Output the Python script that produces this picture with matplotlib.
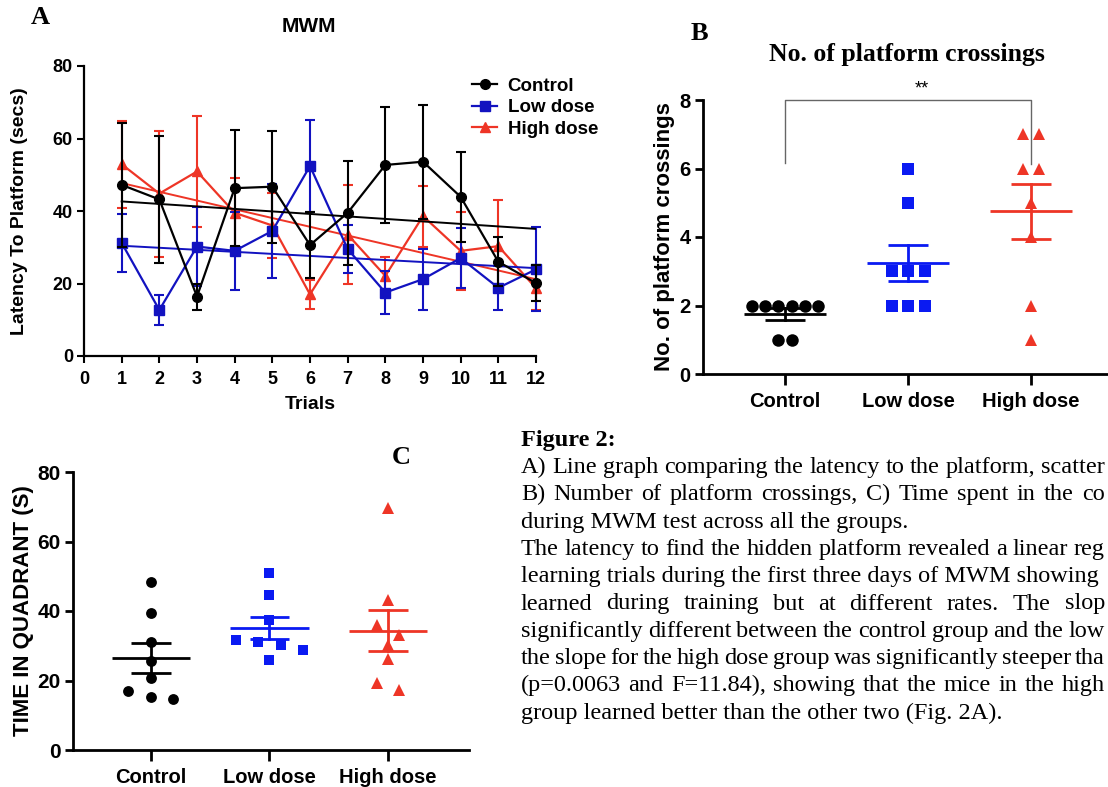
import numpy as np
import matplotlib
matplotlib.use('Agg')
import matplotlib.pyplot as plt
from matplotlib.lines import Line2D

# ------------------------- data -------------------------
trials = [1, 2, 3, 4, 5, 6, 7, 8, 9, 10, 11, 12]
ctrl_lat = [47.2, 43.2, 16.4, 46.3, 46.7, 30.6, 39.5, 52.7, 53.6, 43.9, 26.0, 20.1]
ctrl_sem = [17.0, 17.5, 3.6, 16.0, 15.5, 9.0, 14.4, 16.0, 15.7, 12.4, 6.8, 5.0]
low_lat = [31.2, 12.7, 30.2, 29.0, 34.5, 52.4, 29.5, 17.5, 21.2, 27.0, 18.8, 23.9]
low_sem = [8.0, 4.2, 11.0, 10.7, 13.0, 12.6, 6.7, 5.9, 8.4, 8.3, 6.0, 11.6]
high_lat = [52.9, 44.8, 50.9, 39.5, 36.0, 17.0, 33.5, 22.1, 38.6, 29.0, 30.3, 18.7]
high_sem = [12.0, 17.4, 15.2, 9.5, 9.0, 4.0, 13.7, 5.3, 8.4, 10.8, 12.6, 6.0]

groups = ['Control', 'Low dose', 'High dose']
cross_ctrl = [2, 2, 2, 2, 2, 2, 1, 1]
cross_low = [6, 5, 3, 3, 3, 2, 2, 2]
cross_high = [7, 7, 6, 6, 5, 4, 2, 1]

quad_ctrl = [48.4, 39.4, 31.0, 25.6, 20.7, 17.0, 15.2, 14.8]
quad_low = [51.0, 44.6, 37.4, 31.6, 31.2, 30.1, 28.9, 25.8]
quad_high = [69.6, 43.3, 36.1, 33.2, 30.1, 26.1, 19.2, 17.4]

caption_title = 'Figure 2:'
caption_lines = [
    'A) Line graph comparing the latency to the platform, scatter',
    'B) Number of platform crossings, C) Time spent in the co',
    'during MWM test across all the groups.',
    'The latency to find the hidden platform revealed a linear reg',
    'learning trials during the first three days of MWM showing',
    'learned during training but at different rates. The slop',
    'significantly different between the control group and the low',
    'the slope for the high dose group was significantly steeper tha',
    '(p=0.0063 and F=11.84), showing that the mice in the high',
    'group learned better than the other two (Fig. 2A).',
]
justified = [False, True, False, False, False, True, False, False, True, False]

# ------------------------- style -------------------------
W, H = 1108, 787
SANS = ['Liberation Sans', 'DejaVu Sans']
SERIF = ['Liberation Serif', 'DejaVu Serif']
BLACK = '#000000'
BLUE_A = '#1212C0'
BLUE = '#0A1AF2'
RED = '#EE3526'

plt.rcParams['font.family'] = SANS
fig = plt.figure(figsize=(W / 100, H / 100), dpi=100)
fig.patch.set_facecolor('white')


def fx(px):
    return px / W


def fy(py):
    return 1 - py / H


def style_axes(ax, lw):
    for s in ['top', 'right']:
        ax.spines[s].set_visible(False)
    for s in ['left', 'bottom']:
        ax.spines[s].set_linewidth(lw)
        ax.spines[s].set_color('black')


# ------------------------- Panel A -------------------------
axA = fig.add_axes([fx(84), fy(356), (536 - 84) / W, (356 - 66) / H])
style_axes(axA, 1.6)
axA.set_xlim(0, 12)
axA.set_ylim(0, 80)
axA.set_xticks(range(0, 13))
axA.set_yticks(range(0, 81, 20))
axA.tick_params(axis='y', direction='out', length=5, width=1.5, labelsize=13, pad=3)
axA.tick_params(axis='x', direction='out', length=5, width=1.5, labelsize=13, pad=6)
for lab in axA.get_xticklabels() + axA.get_yticklabels():
    lab.set_fontweight('bold')

series = [
    (high_lat, high_sem, RED, '^', 7.5, 'High dose'),
    (low_lat, low_sem, BLUE_A, 's', 6.5, 'Low dose'),
    (ctrl_lat, ctrl_sem, BLACK, 'o', 7.0, 'Control'),
]
for k, (vals, sem, col, mk, ms, name) in enumerate(series):
    axA.errorbar(trials, vals, yerr=sem, color=col, marker=mk, ms=ms, lw=1.6,
                 elinewidth=1.5, capsize=3.5, capthick=1.5, clip_on=False,
                 zorder=3 + k)
    coef = np.polyfit(trials, vals, 1)
    xs = np.array([trials[0], trials[-1]])
    axA.plot(xs, np.polyval(coef, xs), color=col, lw=1.4, zorder=3 + k)

handles = [Line2D([], [], color=BLACK, marker='o', ms=7, lw=1.6),
           Line2D([], [], color=BLUE_A, marker='s', ms=6.5, lw=1.6),
           Line2D([], [], color=RED, marker='^', ms=7.5, lw=1.6)]
fig.legend(handles, groups, loc='upper left', bbox_to_anchor=(fx(455), fy(61)),
           frameon=False, handlelength=1.35, handletextpad=0.55, labelspacing=0.22,
           prop={'family': SANS, 'weight': 'bold', 'size': 13.5})

axA.set_ylabel('Latency To Platform (secs)', fontsize=14, fontweight='bold')
axA.yaxis.set_label_coords((28 - 84) / 452, 0.5)
axA.set_xlabel('Trials', fontsize=14, fontweight='bold')
axA.xaxis.set_label_coords(0.5, (356 - 396) / 290)
fig.text(fx(309), fy(27), 'MWM', ha='center', va='center', fontsize=15,
         fontweight='bold', family=SANS)
fig.text(fx(40), fy(18), 'A', ha='center', va='center', fontsize=19,
         fontweight='bold', family=SERIF)


def spread_offsets(vals, step, tol):
    vals = np.asarray(vals, dtype=float)
    order = np.argsort(-vals, kind='stable')
    rows = []
    for i in order:
        if rows and abs(vals[rows[-1][0]] - vals[i]) <= tol:
            rows[-1].append(i)
        else:
            rows.append([i])
    offs = np.zeros(len(vals))
    for r in rows:
        k = len(r)
        for j, i in enumerate(r):
            offs[i] = (j - (k - 1) / 2) * step
    return offs


def mean_sem(ax, x, vals, col, lw):
    v = np.asarray(vals, dtype=float)
    m = v.mean()
    s = v.std(ddof=1) / np.sqrt(len(v))
    ax.plot([x - 0.33, x + 0.33], [m, m], color=col, lw=lw, zorder=4, solid_capstyle='butt')
    ax.plot([x - 0.165, x + 0.165], [m + s, m + s], color=col, lw=lw, zorder=4, solid_capstyle='butt')
    ax.plot([x - 0.165, x + 0.165], [m - s, m - s], color=col, lw=lw, zorder=4, solid_capstyle='butt')
    ax.plot([x, x], [m - s, m + s], color=col, lw=lw, zorder=4)


# ------------------------- Panel B -------------------------
axB = fig.add_axes([fx(703), fy(374), (W - 703) / W, (374 - 100) / H])
style_axes(axB, 2.0)
axB.set_xlim(-0.667, 2.626)
axB.set_ylim(0, 8)
axB.set_yticks(range(0, 9, 2))
axB.set_xticks([0, 1, 2])
axB.set_xticklabels(groups)
axB.tick_params(axis='y', direction='out', length=6, width=2, labelsize=14.5, pad=3)
axB.tick_params(axis='x', direction='out', length=8, width=2, labelsize=14.5, pad=5)
for lab in axB.get_xticklabels() + axB.get_yticklabels():
    lab.set_fontweight('bold')

b_sets = [(cross_ctrl, BLACK, 'o', 9.0, 0.108),
          (cross_low, BLUE, 's', 8.0, 0.134),
          (cross_high, RED, '^', 9.0, 0.13)]
for gi, (vals, col, mk, ms, step) in enumerate(b_sets):
    offs = spread_offsets(vals, step, 0.0)
    axB.plot(gi + offs, vals, linestyle='none', marker=mk, ms=ms, color=col,
             markeredgewidth=0, clip_on=False, zorder=3)
    mean_sem(axB, gi, vals, col, 2.0)

axB.plot([0, 0, 2, 2], [6.15, 8.0, 8.0, 6.12], color='#666666', lw=1.0, clip_on=False)
axB.text(1.11, 8.33, '**', ha='center', va='center', fontsize=13, clip_on=False)
axB.set_ylabel('No. of platform crossings', fontsize=16, fontweight='bold')
axB.yaxis.set_label_coords((675 - 703) / 405, 0.5)
fig.text(fx(907), fy(55), 'No. of platform crossings', ha='center', va='center',
         fontsize=18.5, fontweight='bold', family=SERIF)
fig.text(fx(699), fy(33), 'B', ha='center', va='center', fontsize=19,
         fontweight='bold', family=SERIF)

# ------------------------- Panel C -------------------------
axC = fig.add_axes([fx(73), fy(750), (469 - 73) / W, (750 - 472) / H])
style_axes(axC, 2.0)
axC.set_xlim(-0.658, 2.684)
axC.set_ylim(0, 80)
axC.set_yticks(range(0, 81, 20))
axC.set_xticks([0, 1, 2])
axC.set_xticklabels(groups)
axC.tick_params(axis='y', direction='out', length=6, width=2, labelsize=15, pad=3)
axC.tick_params(axis='x', direction='out', length=8, width=2, labelsize=14.5, pad=5)
for lab in axC.get_xticklabels() + axC.get_yticklabels():
    lab.set_fontweight('bold')

c_sets = [(quad_ctrl, BLACK, 'o', 7.8),
          (quad_low, BLUE, 's', 7.5),
          (quad_high, RED, '^', 8.2)]
for gi, (vals, col, mk, ms) in enumerate(c_sets):
    offs = spread_offsets(vals, 0.19, 3.5)
    axC.plot(gi + offs, vals, linestyle='none', marker=mk, ms=ms, color=col,
             markeredgewidth=0, clip_on=False, zorder=3)
    mean_sem(axC, gi, vals, col, 2.0)

axC.set_ylabel('TIME IN QUADRANT (S)', fontsize=16, fontweight='bold')
axC.yaxis.set_label_coords((34 - 73) / 396, 0.5)
fig.text(fx(401), fy(457), 'C', ha='center', va='center', fontsize=19,
         fontweight='bold', family=SERIF)

# ------------------------- Caption text -------------------------
renderer = fig.canvas.get_renderer()
x0 = 521
RIGHT = 1105
probe = fig.text(0, 0, caption_lines[0], fontsize=16, family=SERIF)
wprobe = probe.get_window_extent(renderer).width
probe.remove()
csize = 16 * (RIGHT - x0) / wprobe


def text_width(s, size):
    t = fig.text(0, 0, s, fontsize=size, family=SERIF)
    w = t.get_window_extent(renderer).width
    t.remove()
    return w


fig.text(fx(x0), fy(446), caption_title, fontsize=csize, fontweight='bold',
         family=SERIF, va='baseline')
for i, (line, just) in enumerate(zip(caption_lines, justified)):
    yb = 473 + 27.3 * i
    natural = text_width(line, csize)
    if not just and x0 + natural <= RIGHT:
        fig.text(fx(x0), fy(yb), line, fontsize=csize, family=SERIF, va='baseline')
        continue
    words = line.split(' ')
    ws = [text_width(w, csize) for w in words]
    gap = (RIGHT - x0 - sum(ws)) / (len(words) - 1)
    x = x0
    for w, wd in zip(words, ws):
        fig.text(fx(x), fy(yb), w, fontsize=csize, family=SERIF, va='baseline')
        x += wd + gap

fig.savefig('out.png', dpi=100, facecolor='white')
